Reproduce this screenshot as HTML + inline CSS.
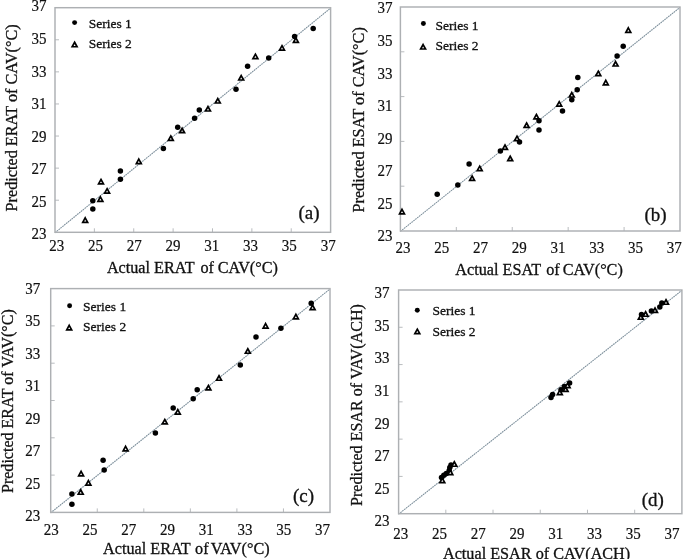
<!DOCTYPE html>
<html><head><meta charset="utf-8"><title>Scatter plots</title>
<style>html,body{margin:0;padding:0;background:#fff;width:685px;height:559px;overflow:hidden}svg{display:block;filter:blur(0.45px)}text{font-family:"Liberation Serif",serif;stroke:#111;stroke-width:0.3px}.n text{stroke-width:0.18px}</style>
</head><body>
<svg width="685" height="559" viewBox="0 0 685 559" font-family='"Liberation Serif", serif' fill="#111">
<rect width="685" height="559" fill="#fff"/>
<path d="M94.37 232.3v-4M55 200.21h4M133.74 232.3v-4M55 168.13h4M173.11 232.3v-4M55 136.04h4M212.49 232.3v-4M55 103.96h4M251.86 232.3v-4M55 71.87h4M291.23 232.3v-4M55 39.79h4" stroke="#b9bcbf" stroke-width="1" fill="none"/>
<line x1="55" y1="232.7" x2="330.6" y2="8.1" stroke="#c3cdd3" stroke-width="1"/>
<line x1="55" y1="232.7" x2="330.6" y2="8.1" stroke="#7f909c" stroke-width="1.1" stroke-dasharray="1.3 1.1"/>
<rect x="55" y="7.7" width="275.6" height="224.6" fill="none" stroke="#adb0b3" stroke-width="1.45"/>
<g class="n" font-size="15"><text transform="translate(56.8 251.45) scale(1 1.08)" text-anchor="middle">23</text><text transform="translate(46.6 239.27) scale(1 1.08)" text-anchor="end">23</text><text transform="translate(95.56 251.45) scale(1 1.08)" text-anchor="middle">25</text><text transform="translate(46.6 206.73) scale(1 1.08)" text-anchor="end">25</text><text transform="translate(134.32 251.45) scale(1 1.08)" text-anchor="middle">27</text><text transform="translate(46.6 174.19) scale(1 1.08)" text-anchor="end">27</text><text transform="translate(173.08 251.45) scale(1 1.08)" text-anchor="middle">29</text><text transform="translate(46.6 141.65) scale(1 1.08)" text-anchor="end">29</text><text transform="translate(211.84 251.45) scale(1 1.08)" text-anchor="middle">31</text><text transform="translate(46.6 109.11) scale(1 1.08)" text-anchor="end">31</text><text transform="translate(250.6 251.45) scale(1 1.08)" text-anchor="middle">33</text><text transform="translate(46.6 76.57) scale(1 1.08)" text-anchor="end">33</text><text transform="translate(289.36 251.45) scale(1 1.08)" text-anchor="middle">35</text><text transform="translate(46.6 44.03) scale(1 1.08)" text-anchor="end">35</text><text transform="translate(328.12 251.45) scale(1 1.08)" text-anchor="middle">37</text><text transform="translate(46.6 11.49) scale(1 1.08)" text-anchor="end">37</text></g>
<text x="106.9" y="273.2" font-size="16.2">Actual ERAT<tspan dx="2.2"> of</tspan><tspan dx="-0.3"> CAV(°C)</tspan></text>
<text transform="translate(17.1 211.4) rotate(-90)" font-size="16.2">Predicted ERAT of CAV(°C)</text>
<circle cx="74.6" cy="22.6" r="2.475" fill="#000"/>
<g fill="#fff" stroke="#000" stroke-width="1.7"><path d="M74.6 42.27L77.05 46.73L72.15 46.73Z"/></g>
<g font-size="13.5"><text transform="translate(88.7 28.3) scale(1 1)">Series 1</text><text transform="translate(88.7 48.2) scale(1 1)">Series 2</text></g>
<text x="298.4" y="218.9" font-size="19">(a)</text>
<g fill="#000"><circle cx="92.8" cy="200.7" r="2.75"/><circle cx="92.8" cy="208.9" r="2.75"/><circle cx="120.4" cy="171.1" r="2.75"/><circle cx="120.4" cy="179.3" r="2.75"/><circle cx="163.4" cy="148.5" r="2.75"/><circle cx="177.7" cy="127.2" r="2.75"/><circle cx="194.6" cy="118.3" r="2.75"/><circle cx="199.3" cy="110" r="2.75"/><circle cx="236" cy="89.2" r="2.75"/><circle cx="247.6" cy="66.2" r="2.75"/><circle cx="268.7" cy="58.1" r="2.75"/><circle cx="294.6" cy="36.6" r="2.75"/><circle cx="313.2" cy="28.5" r="2.75"/></g>
<g fill="#fff" stroke="#000" stroke-width="1.7" stroke-linejoin="miter"><path d="M85.2 217.88L87.65 222.32L82.75 222.32Z"/><path d="M100.4 196.88L102.85 201.32L97.95 201.32Z"/><path d="M101 179.47L103.45 183.92L98.55 183.92Z"/><path d="M107.1 188.68L109.55 193.12L104.65 193.12Z"/><path d="M138.8 159.08L141.25 163.53L136.35 163.53Z"/><path d="M170.8 135.97L173.25 140.42L168.35 140.42Z"/><path d="M182.1 128.28L184.55 132.72L179.65 132.72Z"/><path d="M208 106.58L210.45 111.02L205.55 111.02Z"/><path d="M217.8 98.58L220.25 103.02L215.35 103.02Z"/><path d="M241.2 75.58L243.65 80.02L238.75 80.02Z"/><path d="M255.4 54.17L257.85 58.62L252.95 58.62Z"/><path d="M282 45.67L284.45 50.12L279.55 50.12Z"/><path d="M295.9 37.88L298.35 42.33L293.45 42.33Z"/></g>
<path d="M456.32 231v-4M400.4 186.2h4M512.24 231v-4M400.4 141.4h4M568.16 231v-4M400.4 96.6h4M624.08 231v-4M400.4 51.8h4" stroke="#b9bcbf" stroke-width="1" fill="none"/>
<line x1="400.4" y1="231.4" x2="680" y2="7.4" stroke="#c3cdd3" stroke-width="1"/>
<line x1="400.4" y1="231.4" x2="680" y2="7.4" stroke="#7f909c" stroke-width="1.1" stroke-dasharray="1.3 1.1"/>
<rect x="400.4" y="7" width="279.6" height="224" fill="none" stroke="#adb0b3" stroke-width="1.45"/>
<g class="n" font-size="15"><text transform="translate(403.1 253.25) scale(1 1.08)" text-anchor="middle">23</text><text transform="translate(392.6 241.48) scale(1 1.08)" text-anchor="end">23</text><text transform="translate(441.83 253.25) scale(1 1.08)" text-anchor="middle">25</text><text transform="translate(392.6 208.91) scale(1 1.08)" text-anchor="end">25</text><text transform="translate(480.56 253.25) scale(1 1.08)" text-anchor="middle">27</text><text transform="translate(392.6 176.34) scale(1 1.08)" text-anchor="end">27</text><text transform="translate(519.29 253.25) scale(1 1.08)" text-anchor="middle">29</text><text transform="translate(392.6 143.77) scale(1 1.08)" text-anchor="end">29</text><text transform="translate(558.02 253.25) scale(1 1.08)" text-anchor="middle">31</text><text transform="translate(392.6 111.2) scale(1 1.08)" text-anchor="end">31</text><text transform="translate(596.75 253.25) scale(1 1.08)" text-anchor="middle">33</text><text transform="translate(392.6 78.63) scale(1 1.08)" text-anchor="end">33</text><text transform="translate(635.48 253.25) scale(1 1.08)" text-anchor="middle">35</text><text transform="translate(392.6 46.06) scale(1 1.08)" text-anchor="end">35</text><text transform="translate(674.21 253.25) scale(1 1.08)" text-anchor="middle">37</text><text transform="translate(392.6 13.49) scale(1 1.08)" text-anchor="end">37</text></g>
<text x="455.3" y="274.8" font-size="16.2">Actual ESAT<tspan dx="1.2"> of</tspan><tspan dx="-1.0"> CAV(°C)</tspan></text>
<text transform="translate(363.6 212.5) rotate(-90)" font-size="16.2">Predicted ESAT of CAV(°C)</text>
<circle cx="423.4" cy="23.4" r="2.475" fill="#000"/>
<g fill="#fff" stroke="#000" stroke-width="1.7"><path d="M423.1 44.57L425.55 49.02L420.65 49.02Z"/></g>
<g font-size="13.5"><text transform="translate(435.4 29.5) scale(1 1)">Series 1</text><text transform="translate(435.4 49.9) scale(1 1)">Series 2</text></g>
<text x="644.4" y="221.2" font-size="19">(b)</text>
<g fill="#000"><circle cx="437.2" cy="194.2" r="2.75"/><circle cx="457.8" cy="185" r="2.75"/><circle cx="469.1" cy="163.9" r="2.75"/><circle cx="500.4" cy="151.1" r="2.75"/><circle cx="519.5" cy="142" r="2.75"/><circle cx="539" cy="130" r="2.75"/><circle cx="539" cy="120.8" r="2.75"/><circle cx="562.5" cy="111.1" r="2.75"/><circle cx="571.8" cy="99.8" r="2.75"/><circle cx="577.2" cy="89.8" r="2.75"/><circle cx="577.8" cy="77.5" r="2.75"/><circle cx="617.1" cy="56" r="2.75"/><circle cx="623.2" cy="46.2" r="2.75"/></g>
<g fill="#fff" stroke="#000" stroke-width="1.7" stroke-linejoin="miter"><path d="M402 209.38L404.45 213.82L399.55 213.82Z"/><path d="M472.1 175.97L474.55 180.42L469.65 180.42Z"/><path d="M479.7 166.18L482.15 170.62L477.25 170.62Z"/><path d="M505 144.97L507.45 149.42L502.55 149.42Z"/><path d="M510.2 156.28L512.65 160.72L507.75 160.72Z"/><path d="M517 136.18L519.45 140.62L514.55 140.62Z"/><path d="M526.6 122.98L529.05 127.42L524.15 127.42Z"/><path d="M536.4 114.48L538.85 118.92L533.95 118.92Z"/><path d="M559.2 101.68L561.65 106.12L556.75 106.12Z"/><path d="M571.8 92.58L574.25 97.02L569.35 97.02Z"/><path d="M598.3 71.18L600.75 75.62L595.85 75.62Z"/><path d="M605.8 80.38L608.25 84.82L603.35 84.82Z"/><path d="M615.6 61.57L618.05 66.02L613.15 66.02Z"/><path d="M628.3 27.88L630.75 32.33L625.85 32.33Z"/></g>
<path d="M97.25 512.4v-4M50.7 475.1h4M143.8 512.4v-4M50.7 437.8h4M190.35 512.4v-4M50.7 400.5h4M236.9 512.4v-4M50.7 363.2h4M283.45 512.4v-4M50.7 325.9h4" stroke="#b9bcbf" stroke-width="1" fill="none"/>
<line x1="50.7" y1="512.8" x2="330" y2="289" stroke="#c3cdd3" stroke-width="1"/>
<line x1="50.7" y1="512.8" x2="330" y2="289" stroke="#7f909c" stroke-width="1.1" stroke-dasharray="1.3 1.1"/>
<rect x="50.7" y="288.6" width="279.3" height="223.8" fill="none" stroke="#adb0b3" stroke-width="1.45"/>
<g class="n" font-size="15"><text transform="translate(51.3 534.65) scale(1 1.08)" text-anchor="middle">23</text><text transform="translate(40.2 521.08) scale(1 1.08)" text-anchor="end">23</text><text transform="translate(90.04 534.65) scale(1 1.08)" text-anchor="middle">25</text><text transform="translate(40.2 488.61) scale(1 1.08)" text-anchor="end">25</text><text transform="translate(128.78 534.65) scale(1 1.08)" text-anchor="middle">27</text><text transform="translate(40.2 456.14) scale(1 1.08)" text-anchor="end">27</text><text transform="translate(167.52 534.65) scale(1 1.08)" text-anchor="middle">29</text><text transform="translate(40.2 423.67) scale(1 1.08)" text-anchor="end">29</text><text transform="translate(206.26 534.65) scale(1 1.08)" text-anchor="middle">31</text><text transform="translate(40.2 391.2) scale(1 1.08)" text-anchor="end">31</text><text transform="translate(245 534.65) scale(1 1.08)" text-anchor="middle">33</text><text transform="translate(40.2 358.73) scale(1 1.08)" text-anchor="end">33</text><text transform="translate(283.74 534.65) scale(1 1.08)" text-anchor="middle">35</text><text transform="translate(40.2 326.26) scale(1 1.08)" text-anchor="end">35</text><text transform="translate(322.48 534.65) scale(1 1.08)" text-anchor="middle">37</text><text transform="translate(40.2 293.79) scale(1 1.08)" text-anchor="end">37</text></g>
<text x="103.1" y="554.3" font-size="16.2">Actual ERAT<tspan dx="0.6"> of</tspan><tspan dx="-1.7"> VAV(°C)</tspan></text>
<text transform="translate(13 493) rotate(-90)" font-size="16.05">Predicted ERAT of VAV(°C)</text>
<circle cx="69.6" cy="305.8" r="2.475" fill="#000"/>
<g fill="#fff" stroke="#000" stroke-width="1.7"><path d="M69.2 325.38L71.65 329.83L66.75 329.83Z"/></g>
<g font-size="13.5"><text transform="translate(83.1 310.6) scale(1 1)">Series 1</text><text transform="translate(83.1 331.1) scale(1 1)">Series 2</text></g>
<text x="293" y="502.2" font-size="19">(c)</text>
<g fill="#000"><circle cx="71.9" cy="494" r="2.75"/><circle cx="71.9" cy="504.2" r="2.75"/><circle cx="103.1" cy="460.3" r="2.75"/><circle cx="104.2" cy="470.1" r="2.75"/><circle cx="155.4" cy="433.1" r="2.75"/><circle cx="173.2" cy="408" r="2.75"/><circle cx="193.2" cy="398.7" r="2.75"/><circle cx="197.2" cy="389.7" r="2.75"/><circle cx="240.3" cy="365" r="2.75"/><circle cx="256" cy="337" r="2.75"/><circle cx="280.9" cy="328.3" r="2.75"/><circle cx="311.2" cy="303.3" r="2.75"/></g>
<g fill="#fff" stroke="#000" stroke-width="1.7" stroke-linejoin="miter"><path d="M80.7 489.77L83.15 494.23L78.25 494.23Z"/><path d="M81.1 471.38L83.55 475.83L78.65 475.83Z"/><path d="M88.4 480.57L90.85 485.03L85.95 485.03Z"/><path d="M125.6 446.38L128.05 450.83L123.15 450.83Z"/><path d="M164.8 419.47L167.25 423.93L162.35 423.93Z"/><path d="M177.8 409.57L180.25 414.03L175.35 414.03Z"/><path d="M208.4 385.47L210.85 389.93L205.95 389.93Z"/><path d="M219 375.77L221.45 380.23L216.55 380.23Z"/><path d="M247.8 348.77L250.25 353.23L245.35 353.23Z"/><path d="M265.6 323.57L268.05 328.03L263.15 328.03Z"/><path d="M295.9 314.38L298.35 318.83L293.45 318.83Z"/><path d="M312.6 305.17L315.05 309.62L310.15 309.62Z"/></g>
<path d="M445.82 513.7v-4M398.6 476.42h4M493.03 513.7v-4M398.6 439.13h4M540.25 513.7v-4M398.6 401.85h4M587.47 513.7v-4M398.6 364.57h4M634.68 513.7v-4M398.6 327.28h4" stroke="#b9bcbf" stroke-width="1" fill="none"/>
<line x1="398.6" y1="514.1" x2="681.9" y2="290.4" stroke="#c3cdd3" stroke-width="1"/>
<line x1="398.6" y1="514.1" x2="681.9" y2="290.4" stroke="#7f909c" stroke-width="1.1" stroke-dasharray="1.3 1.1"/>
<rect x="398.6" y="290" width="283.3" height="223.7" fill="none" stroke="#adb0b3" stroke-width="1.45"/>
<g class="n" font-size="15"><text transform="translate(400.8 539.25) scale(1 1.08)" text-anchor="middle">23</text><text transform="translate(389.6 526.3) scale(1 1.08)" text-anchor="end">23</text><text transform="translate(439.54 539.25) scale(1 1.08)" text-anchor="middle">25</text><text transform="translate(389.6 493.72) scale(1 1.08)" text-anchor="end">25</text><text transform="translate(478.28 539.25) scale(1 1.08)" text-anchor="middle">27</text><text transform="translate(389.6 461.14) scale(1 1.08)" text-anchor="end">27</text><text transform="translate(517.02 539.25) scale(1 1.08)" text-anchor="middle">29</text><text transform="translate(389.6 428.56) scale(1 1.08)" text-anchor="end">29</text><text transform="translate(555.76 539.25) scale(1 1.08)" text-anchor="middle">31</text><text transform="translate(389.6 395.98) scale(1 1.08)" text-anchor="end">31</text><text transform="translate(594.5 539.25) scale(1 1.08)" text-anchor="middle">33</text><text transform="translate(389.6 363.4) scale(1 1.08)" text-anchor="end">33</text><text transform="translate(633.24 539.25) scale(1 1.08)" text-anchor="middle">35</text><text transform="translate(389.6 330.82) scale(1 1.08)" text-anchor="end">35</text><text transform="translate(671.98 539.25) scale(1 1.08)" text-anchor="middle">37</text><text transform="translate(389.6 298.24) scale(1 1.08)" text-anchor="end">37</text></g>
<text x="443" y="558.5" font-size="16.2">Actual ESAR<tspan dx="0"> of</tspan><tspan dx="0"> CAV(ACH)</tspan></text>
<text transform="translate(361.7 505.9) rotate(-90)" font-size="16.05">Predicted ESAR of VAV(ACH)</text>
<circle cx="417.3" cy="310.2" r="2.475" fill="#000"/>
<g fill="#fff" stroke="#000" stroke-width="1.7"><path d="M417.3 329.17L419.75 333.62L414.85 333.62Z"/></g>
<g font-size="13.5"><text transform="translate(432.5 315.1) scale(1 1)">Series 1</text><text transform="translate(432.5 335.5) scale(1 1)">Series 2</text></g>
<text x="641.8" y="506.4" font-size="19">(d)</text>
<g fill="#000"><circle cx="441.5" cy="477.5" r="2.75"/><circle cx="443.8" cy="475.3" r="2.75"/><circle cx="446.3" cy="473.5" r="2.75"/><circle cx="449.2" cy="470.5" r="2.75"/><circle cx="449.8" cy="467.5" r="2.75"/><circle cx="451" cy="465" r="2.75"/><circle cx="551" cy="397.6" r="2.75"/><circle cx="552.6" cy="394.6" r="2.75"/><circle cx="561" cy="389.8" r="2.75"/><circle cx="564.4" cy="386.4" r="2.75"/><circle cx="569.6" cy="383" r="2.75"/><circle cx="641.5" cy="314.4" r="2.75"/><circle cx="651.4" cy="310.9" r="2.75"/><circle cx="659.8" cy="306.9" r="2.75"/><circle cx="661.8" cy="303" r="2.75"/></g>
<g fill="#fff" stroke="#000" stroke-width="1.7" stroke-linejoin="miter"><path d="M442.3 478.07L444.75 482.53L439.85 482.53Z"/><path d="M450.3 470.17L452.75 474.62L447.85 474.62Z"/><path d="M454.3 461.77L456.75 466.23L451.85 466.23Z"/><path d="M559.8 390.17L562.25 394.62L557.35 394.62Z"/><path d="M565.6 386.97L568.05 391.43L563.15 391.43Z"/><path d="M567.6 383.17L570.05 387.62L565.15 387.62Z"/><path d="M640.8 314.77L643.25 319.23L638.35 319.23Z"/><path d="M645.6 311.77L648.05 316.23L643.15 316.23Z"/><path d="M655 307.97L657.45 312.43L652.55 312.43Z"/><path d="M666 299.77L668.45 304.23L663.55 304.23Z"/></g>
</svg>
</body></html>
